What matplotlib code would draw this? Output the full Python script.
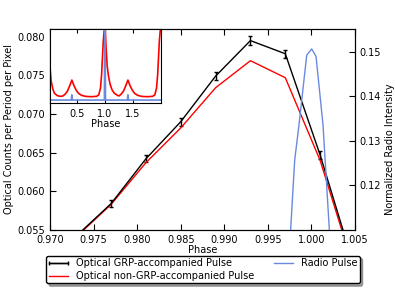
import numpy as np
import matplotlib
matplotlib.use('Agg')
import matplotlib.pyplot as plt
from matplotlib.container import ErrorbarContainer
from matplotlib.legend_handler import HandlerErrorbar

# Main panel: optical pulse profiles around the main peak
phase = [0.973, 0.977, 0.981, 0.985, 0.989, 0.993, 0.997, 1.001, 1.005]
grp = [0.0542, 0.0584, 0.0642, 0.0690, 0.0749, 0.0795, 0.0778, 0.0647, 0.0499]
grp_err = [0.0004, 0.00045, 0.00045, 0.0005, 0.0005, 0.00055, 0.0005, 0.0005, 0.0005]
non_grp = [0.0541, 0.0583, 0.0637, 0.0682, 0.0734, 0.0769, 0.0747, 0.0640, 0.0495]

# Radio pulse (right axis)
radio_phase = [0.9970, 0.99808, 0.99857, 0.99946, 1.00003, 1.00053, 1.00133, 1.0025]
radio = [0.089, 0.1256, 0.1335, 0.1493, 0.1507, 0.1490, 0.1335, 0.0954]

# Inset: full profile over two periods (normalised)
inset_phase = [0.02, 0.04, 0.07, 0.1, 0.15, 0.2, 0.25, 0.29, 0.33, 0.37, 0.41,
               0.45, 0.49, 0.53, 0.58, 0.65, 0.75, 0.85, 0.89, 0.92, 0.94, 0.97,
               1.0, 1.02, 1.04, 1.06, 1.09, 1.125, 1.17, 1.22, 1.25, 1.29, 1.33,
               1.37, 1.41, 1.45, 1.49, 1.53, 1.58, 1.65, 1.75, 1.85, 1.89, 1.92,
               1.94, 1.97, 2.0]
inset_optical = [0.49, 0.30, 0.19, 0.13, 0.10, 0.09, 0.095, 0.12, 0.16, 0.23, 0.31,
                 0.23, 0.17, 0.13, 0.105, 0.09, 0.085, 0.09, 0.11, 0.2, 0.38, 0.83,
                 1.1, 0.75, 0.5, 0.38, 0.26, 0.18, 0.13, 0.105, 0.095, 0.12, 0.16,
                 0.23, 0.31, 0.23, 0.17, 0.13, 0.105, 0.09, 0.085, 0.09, 0.11, 0.2,
                 0.38, 0.83, 1.1]
inset_radio_phase = [0.02, 0.40, 0.41, 0.42, 0.99, 1.0, 1.01, 1.40, 1.41, 1.42, 2.0]
inset_radio = [0.04, 0.04, 0.11, 0.04, 0.04, 1.1, 0.04, 0.04, 0.11, 0.04, 0.04]

plt.rcParams['font.size'] = 7
plt.rcParams['xtick.direction'] = 'in'
plt.rcParams['ytick.direction'] = 'in'

fig = plt.figure(figsize=(3.95, 2.96), dpi=100)
ax = fig.add_axes([50 / 395, 1 - 230 / 296, 305 / 395, 201 / 296])

eb = ax.errorbar(phase, grp, yerr=grp_err, color='black', lw=1, capsize=1.5,
                 label='Optical GRP-accompanied Pulse')
red_line, = ax.plot(phase, non_grp, color='red', lw=1,
                    label='Optical non-GRP-accompanied Pulse')
ax.set_xlim(0.970, 1.005)
ax.set_ylim(0.055, 0.081)
ax.set_xticks(np.arange(0.970, 1.0051, 0.005))
ax.set_yticks([0.055, 0.060, 0.065, 0.070, 0.075, 0.080])
ax.xaxis.set_major_formatter(plt.FormatStrFormatter('%.3f'))
ax.yaxis.set_major_formatter(plt.FormatStrFormatter('%.3f'))
ax.tick_params(top=True, length=4)
ax.set_xlabel('Phase', labelpad=0)
ax.set_ylabel('Optical Counts per Period per Pixel')
ax.yaxis.set_label_coords(-0.118, 0.5)

ax2 = ax.twinx()
blue_line, = ax2.plot(radio_phase, radio, color='#6a8ae0', lw=1, label='Radio Pulse')
ax2.set_ylim(0.1098, 0.1552)
ax2.set_yticks([0.12, 0.13, 0.14, 0.15])
ax2.tick_params(length=4)
ax2.set_ylabel('Normalized Radio Intensity')
ax2.yaxis.set_label_coords(1.098, 0.40)

# Inset with two full periods
axin = fig.add_axes([50 / 395, 1 - 103 / 296, 111 / 395, 74 / 296])
axin.plot(inset_phase, inset_optical, color='red', lw=1.2)
axin.plot(inset_radio_phase, inset_radio, color='#6a8ae0', lw=1.2)
axin.set_xlim(0.02, 2.0)
axin.set_ylim(0, 1.0)
axin.set_xticks([0.5, 1.0, 1.5])
axin.set_yticks([])
axin.tick_params(top=True, length=3, pad=4)
axin.set_xlabel('Phase', labelpad=0.5)

# legend: errorbar shown as horizontal bar with end caps
eb_handle = ErrorbarContainer((eb.lines[0], eb.lines[1], eb.lines[2]),
                              has_xerr=True, has_yerr=False,
                              label='Optical GRP-accompanied Pulse')
fig.legend([eb_handle, red_line, blue_line],
           ['Optical GRP-accompanied Pulse', 'Optical non-GRP-accompanied Pulse', 'Radio Pulse'],
           handler_map={eb_handle: HandlerErrorbar(xerr_size=1.0)},
           loc='center', bbox_to_anchor=(203 / 395, 1 - 269.5 / 296), ncol=2,
           fontsize=7, fancybox=True, shadow=True, columnspacing=2.0,
           handlelength=2.0, borderpad=0.25, labelspacing=0.3,
           framealpha=1, edgecolor='black')

fig.savefig('out.png', dpi=100)
